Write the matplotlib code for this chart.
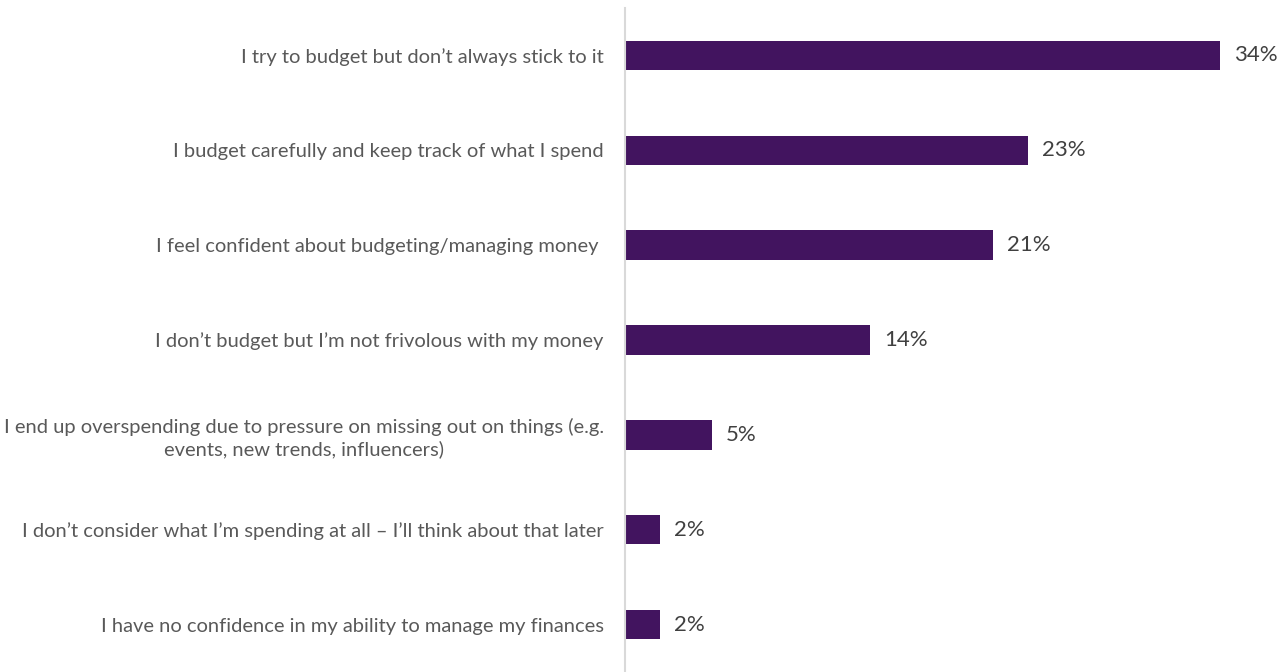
import matplotlib.pyplot as plt

labels = [
    "I try to budget but don\u2019t always stick to it",
    "I budget carefully and keep track of what I spend",
    "I feel confident about budgeting/managing money ",
    "I don\u2019t budget but I\u2019m not frivolous with my money",
    "I end up overspending due to pressure on missing out on things (e.g.\nevents, new trends, influencers)",
    "I don\u2019t consider what I\u2019m spending at all \u2013 I\u2019ll think about that later",
    "I have no confidence in my ability to manage my finances",
]
values = [34, 23, 21, 14, 5, 2, 2]

plt.rcParams['font.family'] = ['Lato', 'DejaVu Sans']

fig = plt.figure(figsize=(12.8, 6.72), dpi=100)
ax = fig.add_axes([0.488, 0.0, 0.512, 0.988])

pos = list(range(len(values)))
bars = ax.barh(pos, values, height=0.31, color='#42145f')
ax.bar_label(bars, labels=[f"{v}%" for v in values], padding=10,
             fontsize=16, color='#404040')

ax.set_xlim(0, 37.4)
ax.set_ylim(len(values) - 0.5, -0.5)
ax.set_yticks(pos)
ax.set_yticklabels(labels, fontsize=14.5, color='#595959',
                   multialignment='center', linespacing=1.25)
ax.tick_params(axis='y', length=0, pad=15)
ax.set_xticks([])

for s in ['top', 'right', 'bottom']:
    ax.spines[s].set_visible(False)
ax.spines['left'].set_color('#d9d9d9')
ax.spines['left'].set_linewidth(1.5)

fig.savefig("out.png", dpi=100)
